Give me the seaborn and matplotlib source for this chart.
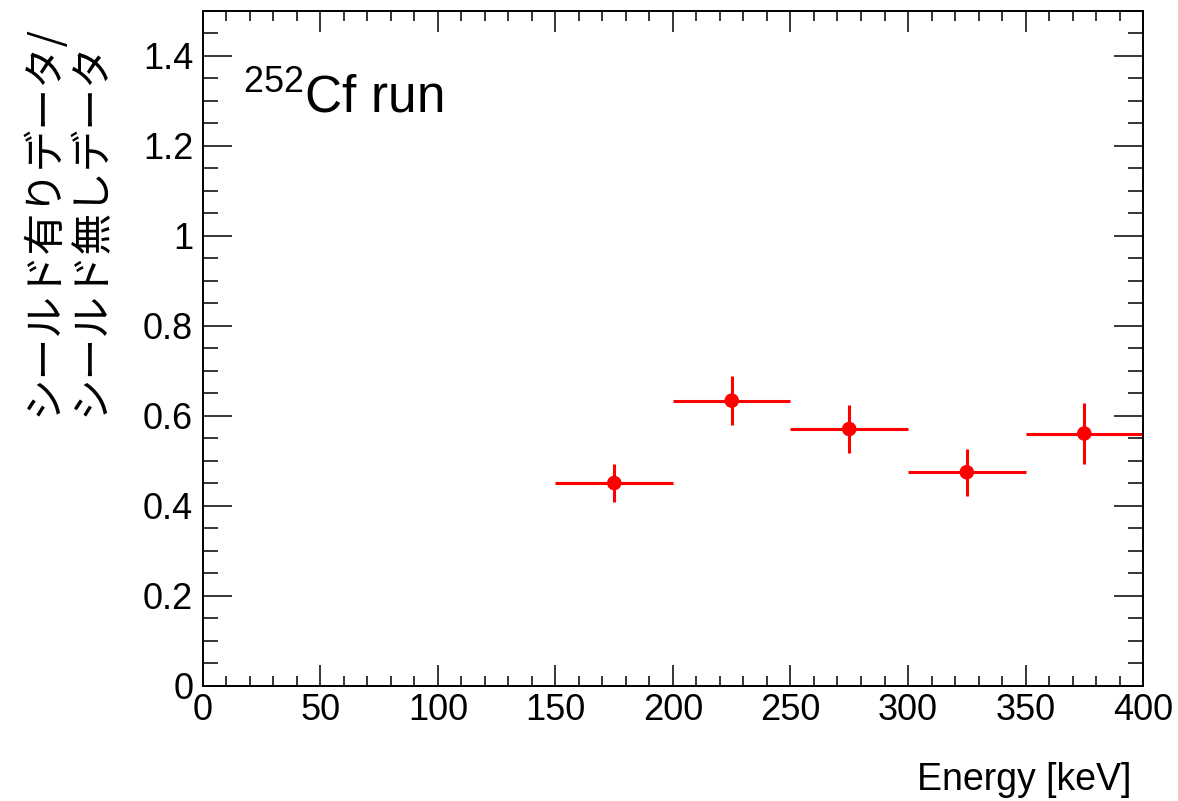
import numpy as np
import pandas as pd
import matplotlib
matplotlib.use("Agg")
import matplotlib.pyplot as plt
import seaborn as sns
from matplotlib.ticker import MultipleLocator, FuncFormatter

# Shielded / unshielded ratio per energy bin (252Cf run)
energy = [175, 225, 275, 325, 375]
bin_half_width = [25, 25, 25, 25, 25]
ratio = [0.451, 0.634, 0.571, 0.475, 0.561]
ratio_err = [0.043, 0.054, 0.054, 0.052, 0.067]

x_label = "Energy [keV]"
y_label = "シールド有りデータ/\nシールド無しデータ"
run_label = r"$^{252}$Cf run"

sns.set_theme(style="ticks")
plt.rcParams['font.family'] = ['Liberation Sans', 'Noto Sans CJK JP']
plt.rcParams['mathtext.fontset'] = 'custom'
plt.rcParams['mathtext.rm'] = 'Liberation Sans'
plt.rcParams['mathtext.it'] = 'Liberation Sans:italic'
plt.rcParams['text.color'] = 'black'
plt.rcParams['axes.labelcolor'] = 'black'

df = pd.DataFrame({'energy': energy, 'ratio': ratio})

fig = plt.figure(figsize=(11.78, 8.01), dpi=100)
ax = fig.add_axes([0.1723, 0.1436, 0.798, 0.8427])

# Error bars (bin width and statistical error)
ax.errorbar(energy, ratio, xerr=bin_half_width, yerr=ratio_err, fmt='none',
            ecolor='#ff0000', elinewidth=2.2, capsize=0, zorder=2)
sns.scatterplot(data=df, x='energy', y='ratio', color='#ff0000', s=110,
                edgecolor='none', ax=ax, zorder=3)

ax.set_xlim(0, 400)
ax.set_ylim(0, 1.5)

ax.xaxis.set_major_locator(MultipleLocator(50))
ax.xaxis.set_minor_locator(MultipleLocator(10))
ax.yaxis.set_major_locator(MultipleLocator(0.2))
ax.yaxis.set_minor_locator(MultipleLocator(0.05))
ax.yaxis.set_major_formatter(FuncFormatter(lambda v, p: f"{v:g}"))
ax.xaxis.set_major_formatter(FuncFormatter(lambda v, p: f"{v:g}"))

ax.tick_params(which='both', direction='in', top=True, right=True,
               colors='black', labelcolor='black', width=1.1, labelsize=26)
ax.tick_params(axis='x', which='major', length=15, pad=5)
ax.tick_params(axis='x', which='minor', length=7.5)
ax.tick_params(axis='y', which='major', length=21, pad=7)
ax.tick_params(axis='y', which='minor', length=11)

for spine in ax.spines.values():
    spine.set_linewidth(1.4)
    spine.set_color('black')

ax.set_xlabel(x_label, fontsize=27, ha='right', va='baseline')
ax.xaxis.set_label_coords(0.988, -0.154)

ax.set_ylabel(y_label, fontsize=30, ha='right', va='center',
              multialignment='left', linespacing=1.2,
              family=['Noto Sans CJK JP', 'Liberation Sans'])
ax.yaxis.set_label_coords(-0.1452, 0.979)

ax.text(0.0426, 0.850, run_label, transform=ax.transAxes, fontsize=37,
        color='black', ha='left', va='baseline')

plt.savefig("out.png", dpi=100)
plt.close()
